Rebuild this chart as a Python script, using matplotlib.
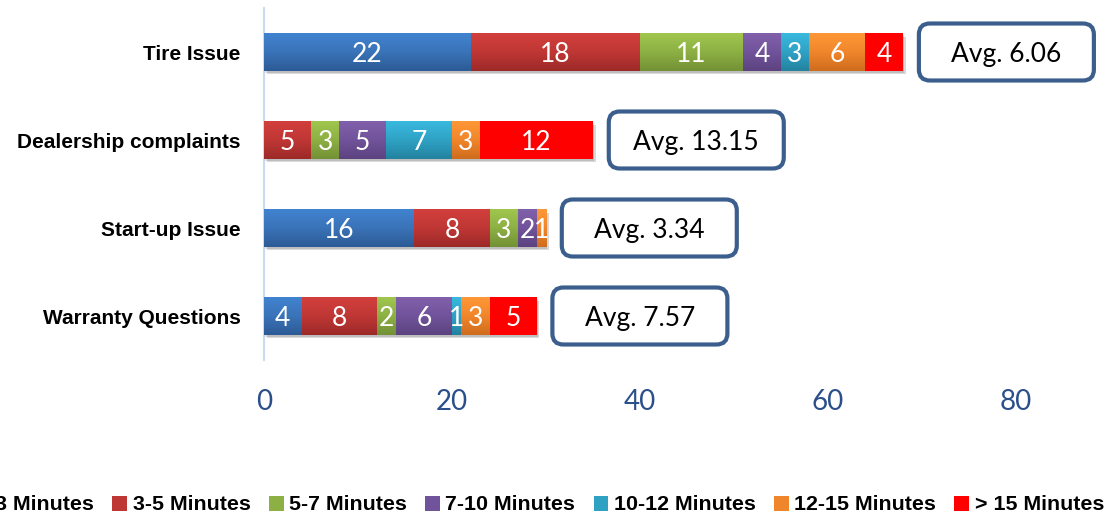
import numpy as np
import matplotlib
matplotlib.use('Agg')
import matplotlib.pyplot as plt
import matplotlib.patheffects as pe
from matplotlib.patches import FancyBboxPatch
from matplotlib.colors import LinearSegmentedColormap

# data, listed top to bottom as in the chart
categories = ['Tire Issue', 'Dealership complaints', 'Start-up Issue', 'Warranty Questions']
bands = ['0-3 Minutes', '3-5 Minutes', '5-7 Minutes', '7-10 Minutes',
         '10-12 Minutes', '12-15 Minutes', '> 15 Minutes']
min_0_3 = [22, 0, 16, 4]
min_3_5 = [18, 5, 8, 8]
min_5_7 = [11, 3, 3, 2]
min_7_10 = [4, 5, 2, 6]
min_10_12 = [3, 7, 0, 1]
min_12_15 = [6, 3, 1, 3]
min_15_plus = [4, 12, 0, 5]
averages = [6.06, 13.15, 3.34, 7.57]
xticks = [0, 20, 40, 60, 80]

series = [min_0_3, min_3_5, min_5_7, min_7_10, min_10_12, min_12_15, min_15_plus]
# (top, middle, bottom) shades for the gradient fill
shades = [('#4183d0', '#3a73b8', '#2c5b95'),
          ('#d23f3c', '#bf3735', '#9c2a28'),
          ('#a0c64e', '#8db044', '#739136'),
          ('#8160ab', '#70539a', '#5c4380'),
          ('#38b9de', '#2fa2c4', '#23829f'),
          ('#ff9838', '#f0862b', '#cf6c1e'),
          ('#ff0000', '#ff0000', '#ff0000')]

fig = plt.figure(figsize=(11.06, 5.17), dpi=100)
W, H = 1106, 517
ax = fig.add_axes([264 / W, 1 - 360 / H, 1 - 264 / W, 352 / H])
xmax = 89.6
ax.set_xlim(0, xmax)
ax.set_ylim(-0.5, 3.5)

y = np.arange(len(categories))[::-1]
bar_h = 0.43
totals = np.sum(series, axis=0)

# soft drop shadow under each whole bar
ax.barh(y, totals, height=bar_h, color='white', linewidth=0, zorder=1,
        path_effects=[pe.SimplePatchShadow(offset=(2, -2.5), shadow_rgbFace='#000000', alpha=0.15),
                      pe.SimplePatchShadow(offset=(1, -1.5), shadow_rgbFace='#000000', alpha=0.12),
                      pe.Normal()])

grad = np.linspace(0, 1, 64).reshape(-1, 1)
left = np.zeros(len(categories))
handles = []
for vals, (top, mid, bot) in zip(series, shades):
    bars = ax.barh(y, vals, left=left, height=bar_h, color=mid, linewidth=0, zorder=2)
    handles.append(bars)
    cmap = LinearSegmentedColormap.from_list('g', [top, mid, bot])
    for rect, v in zip(bars, vals):
        if v == 0:
            continue
        x0, y0 = rect.get_x(), rect.get_y()
        w, hh = rect.get_width(), rect.get_height()
        ax.imshow(grad, extent=[x0, x0 + w, y0, y0 + hh], cmap=cmap, aspect='auto',
                  origin='upper', interpolation='bilinear', zorder=3)
        ax.text(x0 + w / 2, y0 + hh / 2, str(v), color='white', fontsize=19,
                family='Lato', ha='center', va='center_baseline', zorder=5)
    left += np.array(vals)

ax.set_xlim(0, xmax)
ax.set_ylim(-0.5, 3.5)

# rounded "Avg." call-out boxes
px_x = ax.get_position().width * W / xmax
px_y = ax.get_position().height * H / 4.0
box_w = 175 / px_x
box_h = 57 / px_y
for yi, tot, avg in zip(y, totals, averages):
    cx = tot + 11
    box = FancyBboxPatch((cx - box_w / 2, yi - box_h / 2), box_w, box_h,
                         boxstyle='round,pad=0,rounding_size=%.3f' % (11 / px_x),
                         mutation_aspect=px_x / px_y, fc='white', ec='#3b5e8c',
                         lw=3, zorder=4, clip_on=False)
    ax.add_patch(box)
    ax.text(cx, yi, 'Avg. %.2f' % avg, fontsize=19, family='Lato', color='black',
            ha='center', va='center_baseline', zorder=5)

ax.set_yticks(y)
ax.set_yticklabels(categories, fontsize=15, fontweight='bold', family='Liberation Sans')
ax.set_xticks(xticks)
ax.set_xticklabels([str(t) for t in xticks], fontsize=20, family='Lato', color='#2b4f8a')
ax.tick_params(axis='y', length=0, pad=17)
ax.tick_params(axis='x', length=0, pad=21)
for s in ['top', 'right', 'bottom']:
    ax.spines[s].set_visible(False)
ax.spines['left'].set_color('#c8daf0')
ax.spines['left'].set_linewidth(1.5)

fig.legend(handles, bands, loc='center', bbox_to_anchor=(530 / W, 1 - 505 / H), ncol=7,
           frameon=False, prop={'family': 'Liberation Sans', 'weight': 'bold', 'size': 15.4},
           handlelength=0.7, handleheight=0.7, handletextpad=0.25, columnspacing=0.85)

fig.savefig('out.png', dpi=100)
